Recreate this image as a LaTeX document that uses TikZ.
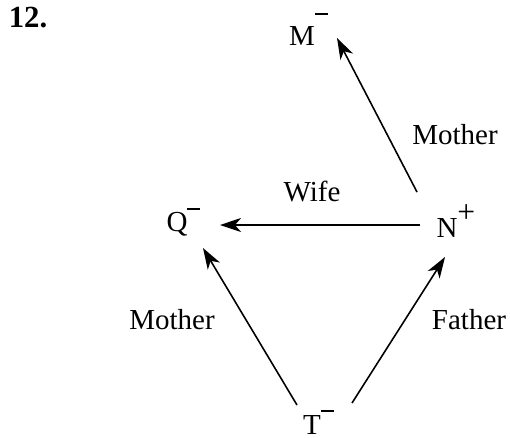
\documentclass[tikz,border=0pt]{standalone}
\usepackage{fontspec}
\setmainfont{Liberation Serif}
\usetikzlibrary{arrows.meta,calc}
\newcommand{\negs}[1]{\rlap{\rule[#1]{7.4pt}{1.3pt}}}
\begin{document}
\begin{tikzpicture}[x=0.02cm,y=-0.02cm,>={Stealth[length=12pt,width=8pt,inset=3.5pt]},every node/.style={font=\fontsize{16.5}{19}\selectfont,inner sep=0pt},rel/.style={->,line width=0.9pt}]
\useasboundingbox (0,0) rectangle (510,437);
\node[font=\fontsize{17.5}{20}\selectfont\bfseries] (num) at (28,18) {12.};
\node (m) at (302,29) {M\negs{17pt}\hspace{1.5pt}};
\node (q) at (177,222) {Q\negs{12.5pt}};
\node (n) at (447,221) {N\rlap{\raisebox{9pt}{\fontsize{18}{20}\selectfont+}}};
\node (t) at (312,422) {T\negs{12.5pt}};
\node (mom1) at (455,135) {Mother};
\node (wife) at (312,192) {Wife};
\node (mom2) at (172,320) {Mother};
\node (dad) at (469,320) {Father};
\draw[rel] ($(n)+(-30,-29)$)--($(m)+(35,9)$);
\draw[rel] ($(n)+(-27,4)$)--($(q)+(43,3)$);
\draw[rel] ($(t)+(-15,-17)$)--($(q)+(26,26)$);
\draw[rel] ($(t)+(40,-19)$)--($(n)+(-2,36)$);
\end{tikzpicture}
\end{document}
